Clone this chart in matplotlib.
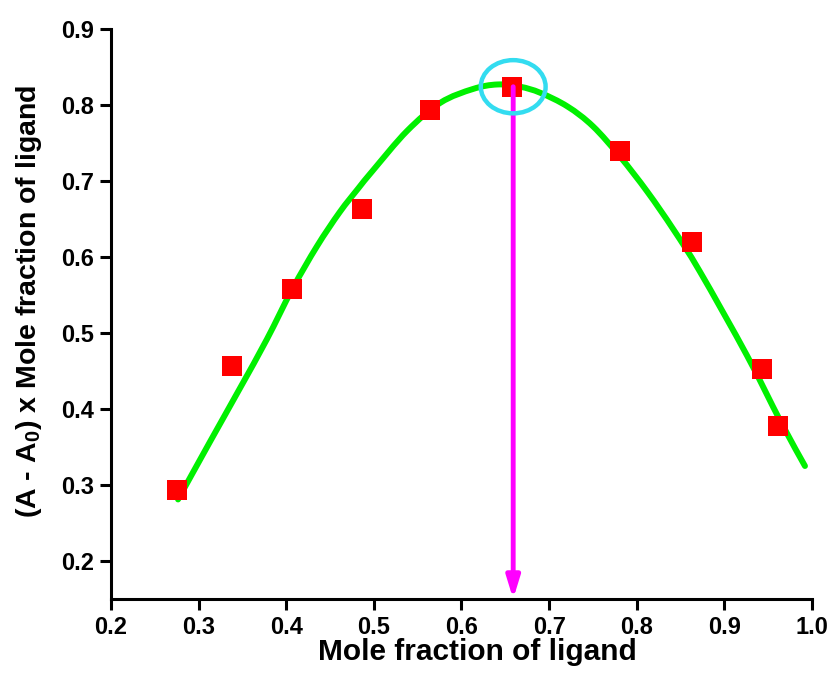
import matplotlib
matplotlib.use("Agg")
import matplotlib.pyplot as plt
import numpy as np
from matplotlib.patches import Ellipse, PathPatch
from matplotlib.path import Path

plt.rcParams['font.family'] = ['Liberation Sans', 'DejaVu Sans']
plt.rcParams['font.weight'] = 'bold'
plt.rcParams['mathtext.fontset'] = 'custom'
plt.rcParams['mathtext.rm'] = 'Liberation Sans:bold'
plt.rcParams['mathtext.bf'] = 'Liberation Sans:bold'
plt.rcParams['mathtext.it'] = 'Liberation Sans:bold'
plt.rcParams['mathtext.default'] = 'bf'

# Measured data points
mole_fraction = [0.275, 0.338, 0.407, 0.487, 0.564, 0.658, 0.781, 0.863, 0.943, 0.961]
signal = [0.293, 0.456, 0.558, 0.663, 0.793, 0.823, 0.740, 0.620, 0.452, 0.377]

# Fitted curve
fit_x = [0.2765, 0.313, 0.347, 0.378, 0.407, 0.435, 0.461, 0.482, 0.499, 0.538,
         0.576, 0.613, 0.641, 0.667, 0.690, 0.721, 0.750, 0.781, 0.812, 0.842,
         0.872, 0.926, 0.964, 0.992]
fit_y = [0.281, 0.357, 0.427, 0.492, 0.558, 0.614, 0.659, 0.690, 0.714, 0.766,
         0.803, 0.821, 0.827, 0.824, 0.816, 0.798, 0.772, 0.732, 0.686, 0.636,
         0.581, 0.470, 0.384, 0.325]

# Stoichiometry marker
peak_x = 0.659
peak_y = 0.824

x_ticks = [0.2, 0.3, 0.4, 0.5, 0.6, 0.7, 0.8, 0.9, 1.0]
y_ticks = [0.2, 0.3, 0.4, 0.5, 0.6, 0.7, 0.8, 0.9]


def smooth_path(xs, ys):
    """Catmull-Rom style Bezier path through the given points."""
    pts = np.column_stack([xs, ys])
    n = len(pts)
    verts = [pts[0]]
    codes = [Path.MOVETO]
    for i in range(n - 1):
        p0 = pts[i - 1] if i > 0 else pts[i]
        p1 = pts[i]
        p2 = pts[i + 1]
        p3 = pts[i + 2] if i + 2 < n else pts[i + 1]
        c1 = p1 + (p2 - p0) / 6.0
        c2 = p2 - (p3 - p1) / 6.0
        verts += [c1, c2, p2]
        codes += [Path.CURVE4] * 3
    return Path(verts, codes)


fig = plt.figure(figsize=(8.31, 6.77), dpi=100)
ax = fig.add_axes([0.1336, 0.1152, 0.8435, 0.8420])

ax.add_patch(PathPatch(smooth_path(fit_x, fit_y), fill=False, edgecolor='#00f000',
                       lw=4.3, capstyle='round', zorder=2))
ax.plot(mole_fraction, signal, linestyle='none', marker='s', markersize=14,
        color='#ff0000', markeredgewidth=0, zorder=3)

ax.annotate('', xy=(peak_x, 0.15), xytext=(peak_x, peak_y),
            arrowprops=dict(arrowstyle='-|>,head_length=1.3,head_width=0.4',
                            color='#ff00ff', lw=3.5, shrinkA=0, shrinkB=0),
            zorder=4)
ax.add_patch(Ellipse((peak_x, peak_y), 0.074, 0.070, fill=False,
                     edgecolor='#33dcf0', lw=3.2, zorder=5))

ax.set_xlim(0.2, 1.0)
ax.set_ylim(0.15, 0.9)
ax.set_xticks(x_ticks)
ax.set_yticks(y_ticks)
ax.set_xticklabels([f'{v:.1f}' for v in x_ticks])
ax.set_yticklabels([f'{v:.1f}' for v in y_ticks])

for side in ['top', 'right']:
    ax.spines[side].set_visible(False)
for side in ['left', 'bottom']:
    ax.spines[side].set_linewidth(2.2)
ax.tick_params(direction='out', length=8, width=2.2, labelsize=17, pad=4)
for lab in ax.get_xticklabels() + ax.get_yticklabels():
    lab.set_fontweight('bold')

ax.set_xlabel('Mole fraction of ligand', fontsize=21.5, fontweight='bold')
ax.set_ylabel(r'(A - A$_0$) x Mole fraction of ligand', fontsize=20.5,
              fontweight='bold')
ax.xaxis.set_label_coords(0.523, -0.068)
ax.yaxis.set_label_coords(-0.095, 0.523)

fig.savefig('out.png', dpi=100, facecolor='white')
